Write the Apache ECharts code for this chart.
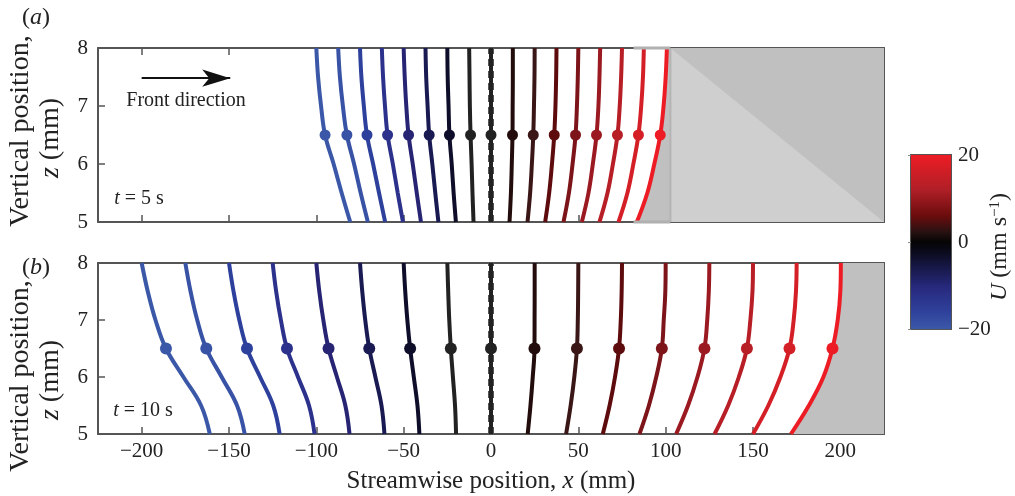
<!DOCTYPE html>
<html lang="en">
<head>
<meta charset="UTF-8">
<title>Front profiles</title>
<script src="https://cdn.jsdelivr.net/npm/echarts@6.0.0/dist/echarts.min.js"></script>
</head>
<body style="margin:0;background:#fff">
<div id="ec" style="width:1015px;height:496px"></div>
<script>
var zLevels = [8, 7.5, 7, 6.5, 6, 5.5, 5]
var dotZ = 6.5
var xTicks = [-200, -150, -100, -50, 0, 50, 100, 150, 200]

// (a) t = 5 s : x position (mm) of each profile at the zLevels above
var linesA = [
    [-100, -99, -97.3, -95, -90.1, -85.5, -80.6],
    [-87.5, -86.5, -84.8, -82.5, -78.4, -74.6, -70.5],
    [-75, -74.2, -72.8, -71, -67.5, -64.1, -60.6],
    [-62.5, -61.8, -60.7, -59.2, -56.2, -53.4, -50.4],
    [-50, -49.4, -48.5, -47.2, -44.8, -42.5, -40.1],
    [-37.5, -37.1, -36.3, -35.4, -33.6, -31.9, -30.1],
    [-25, -24.8, -24.3, -23.8, -22.5, -21.4, -20.1],
    [-12.5, -12.3, -12.1, -11.7, -11.1, -10.6, -10],
    [0, 0, 0, 0, 0, 0, 0],
    [12.5, 12.5, 12.4, 12.3, 11.9, 11.4, 10.6],
    [25, 24.9, 24.6, 24.2, 23.4, 22.4, 20.9],
    [37.5, 37.3, 36.9, 36.2, 34.9, 33.3, 31],
    [50, 49.7, 49.2, 48.4, 46.7, 44.6, 41.5],
    [62.5, 62.1, 61.5, 60.4, 58.3, 55.8, 52],
    [75, 74.5, 73.7, 72.4, 69.8, 66.7, 62.1],
    [87.5, 87, 86, 84.4, 81.5, 78.1, 73],
    [100.7, 100, 98.8, 96.9, 93.5, 89.5, 83.5]
]

// (b) t = 10 s
var linesB = [
    [-200, -196.5, -192.1, -186.1, -176.1, -166, -161],
    [-175, -172, -168.2, -163, -154.2, -145.4, -141],
    [-150, -147.4, -144.1, -139.7, -132.2, -124.7, -121],
    [-125, -123, -120.3, -116.8, -110.5, -104.2, -101],
    [-100, -98.3, -96, -93, -88.2, -83.4, -81],
    [-75, -73.7, -72, -69.7, -66.2, -62.7, -61],
    [-50, -49.1, -47.9, -46.3, -44.2, -42.1, -41],
    [-25, -24.5, -23.9, -23, -21.8, -20.6, -20],
    [0, 0, 0, 0, 0, 0, 0],
    [25, 25, 24.95, 24.9, 23.9, 22.6, 21],
    [50, 49.9, 49.7, 49.2, 47.7, 45.6, 43],
    [75, 74.8, 74.3, 73.3, 71, 67.9, 64],
    [100, 99.8, 98.9, 97.8, 94.6, 90.4, 85],
    [125, 124.7, 123.8, 122.2, 118.2, 112.8, 106],
    [150, 149.7, 148.5, 146.5, 141.9, 135.8, 128],
    [175, 174.6, 173.3, 170.9, 165.7, 158.8, 150],
    [200.3, 200, 198.5, 195.5, 190.3, 182, 171.7]
]

var lineColors = ['#3b58a8', '#3852a5', '#2d409c', '#2c318b', '#272573', '#191a52', '#0e0e2a', '#222222',
    '#222222', '#220c0c', '#3b1616', '#5d0b0c', '#7d1419', '#9b1a21', '#b81e26', '#d41f27', '#ed1c24']

// colour bar
var uRange = [-20, 20]
var uStops = [[0, '#ed1c24'], [0.2, '#b01f27'], [0.35, '#6b0c0d'], [0.44, '#2a1212'], [0.5, '#050505'],
    [0.56, '#0b0b1e'], [0.63, '#151640'], [0.76, '#27297d'], [0.9, '#2f419b'], [1, '#3b58a8']]

// shaded zone in (a)
var shadeEdgeA = 102.7
var boxLeftA = 81.6
var xMin = -225, xMax = 225

var serif = '"Liberation Serif", "Times New Roman", serif'
var axisCol = '#555'
var minus = function (v) { return String(v).replace('-', '\u2212') }

var chart = echarts.init(document.getElementById('ec'))

function xAx(grid, pos, labels, name) {
    return {
        type: 'value', gridIndex: grid, position: pos, min: xMin, max: xMax,
        axisLine: { show: true, onZero: false, lineStyle: { color: axisCol, width: 2 } },
        axisTick: { show: true, inside: true, length: 7, customValues: xTicks, lineStyle: { color: axisCol, width: 1.5 } },
        axisLabel: { show: labels, customValues: xTicks, margin: 7, fontFamily: serif, fontSize: 21, color: '#222', formatter: minus },
        splitLine: { show: false },
        name: name || '', nameLocation: 'middle', nameGap: 35,
        nameTextStyle: { fontFamily: serif, fontSize: 25, color: '#222', rich: { i: { fontFamily: serif, fontSize: 25, fontStyle: 'italic', color: '#222' } } }
    }
}
function yAx(grid, pos, labels) {
    return {
        type: 'value', gridIndex: grid, position: pos, min: 5, max: 8, interval: 1,
        axisLine: { show: true, onZero: false, lineStyle: { color: axisCol, width: 2 } },
        axisTick: { show: true, inside: true, length: 7, lineStyle: { color: axisCol, width: 1.5 } },
        axisLabel: { show: labels, margin: 10, fontFamily: serif, fontSize: 21, color: '#222' },
        splitLine: { show: false }
    }
}

var series = []

function shape(xi, yi, kind, pts, style, z) {
    return {
        type: 'custom', xAxisIndex: xi, yAxisIndex: yi, z: z, silent: true, clip: false,
        data: [[pts[0][0], pts[0][1]]],
        renderItem: function (params, api) {
            return { type: kind, shape: { points: pts.map(function (p) { return api.coord(p) }) }, style: style }
        }
    }
}

function addPanel(lines, xi, yi, dotSize) {
    var front = lines[lines.length - 1]
    var shade = zLevels.map(function (z, i) { return [front[i], z] })
    shade.push([xMax, 5], [xMax, 8])
    series.push(shape(xi, yi, 'polygon', shade, { fill: '#c0c0c0' }, 1))
    // dashed reference at x = 0
    series.push({
        type: 'line', xAxisIndex: xi, yAxisIndex: yi, z: 2, symbol: 'none', silent: true,
        data: [[0, 5], [0, 8]],
        lineStyle: { color: '#555', width: 6, type: [7, 5] }
    })
    lines.forEach(function (l, k) {
        series.push({
            type: 'line', xAxisIndex: xi, yAxisIndex: yi, z: 3, symbol: 'none', smooth: 0.4, silent: true,
            data: zLevels.map(function (z, i) { return [l[i], z] }),
            lineStyle: { color: lineColors[k], width: 4 }
        })
    })
    series.push({
        type: 'scatter', xAxisIndex: xi, yAxisIndex: yi, z: 4, symbolSize: dotSize, silent: true,
        data: lines.map(function (l, k) {
            return { value: [l[zLevels.indexOf(dotZ)], dotZ], itemStyle: { color: lineColors[k], opacity: 1 } }
        })
    })
}

// panel (a) shading extras: lighter triangle, edge and box rims
series.push(shape(0, 0, 'polygon', [[shadeEdgeA, 8], [xMax, 5], [shadeEdgeA, 5]], { fill: '#cfcfcf' }, 1.5))
addPanel(linesA, 0, 0, 11)
series.push(shape(0, 0, 'polyline', [[shadeEdgeA, 8], [shadeEdgeA, 5]], { fill: null, stroke: '#b4b4b4', lineWidth: 2 }, 1.6))
series.push(shape(0, 0, 'polyline', [[boxLeftA, 8], [shadeEdgeA, 8]], { fill: null, stroke: '#b0b0b0', lineWidth: 3 }, 10))
series.push(shape(0, 0, 'polyline', [[boxLeftA, 5], [shadeEdgeA, 5]], { fill: null, stroke: '#b0b0b0', lineWidth: 3 }, 10))
addPanel(linesB, 2, 2, 12)

// arrow "Front direction"
series.push({
    type: 'line', xAxisIndex: 0, yAxisIndex: 0, data: [], silent: true,
    markLine: {
        silent: true, symbol: ['none', 'arrow'], symbolSize: [13, 28], animation: false,
        lineStyle: { color: '#111', width: 2, type: 'solid' }, label: { show: false },
        data: [[{ coord: [-200, 7.48] }, { coord: [-149.3, 7.48] }]]
    }
})

// colour bar
series.push({
    type: 'custom', xAxisIndex: 4, yAxisIndex: 4, silent: true, data: [[0, 0]],
    renderItem: function (params, api) {
        var p0 = api.coord([0, uRange[1]]), p1 = api.coord([1, uRange[0]])
        return {
            type: 'rect', shape: { x: p0[0], y: p0[1], width: p1[0] - p0[0], height: p1[1] - p0[1] },
            style: { fill: new echarts.graphic.LinearGradient(0, 0, 0, 1, uStops.map(function (s) { return { offset: s[0], color: s[1] } })) }
        }
    }
})

function txt(x, y, text, size, rot) {
    return {
        type: 'text', x: x, y: y, rotation: rot || 0, silent: true,
        style: {
            text: text, fontFamily: serif, fontSize: size, fill: '#222',
            textAlign: 'center', textVerticalAlign: 'middle', align: 'center', verticalAlign: 'middle',
            rich: {
                i: { fontFamily: serif, fontSize: size, fontStyle: 'italic', fill: '#222' },
                sup: { fontFamily: serif, fontSize: Math.round(size * 0.62), fill: '#222', verticalAlign: 'top', padding: [0, 0, 10, 0] }
            }
        }
    }
}

var graphics = [
    txt(36, 18, '({i|a})', 24),
    txt(36, 268, '({i|b})', 24),
    txt(21, 131, 'Vertical position,', 28, Math.PI / 2),
    txt(51, 138, '{i|z} (mm)', 28, Math.PI / 2),
    txt(21, 376, 'Vertical position,', 28, Math.PI / 2),
    txt(51, 380, '{i|z} (mm)', 28, Math.PI / 2),
    txt(186, 101, 'Front direction', 20),
    txt(139, 199, '{i|t} = 5 s', 20),
    txt(143, 411, '{i|t} = 10 s', 20),
    txt(1000, 247, '{i|U} (mm s{sup|\u22121})', 24, Math.PI / 2)
]

var option = {
    animation: false,
    backgroundColor: '#fff',
    grid: [
        { left: 98, top: 48, width: 786, height: 174 },
        { left: 98, top: 263, width: 786, height: 171 },
        { left: 911, top: 155, width: 40, height: 174, show: true, borderColor: axisCol, borderWidth: 2 }
    ],
    xAxis: [
        xAx(0, 'bottom', false), xAx(0, 'top', false),
        xAx(1, 'bottom', true, 'Streamwise position, {i|x} (mm)'), xAx(1, 'top', false),
        { type: 'value', gridIndex: 2, min: 0, max: 1, show: false }
    ],
    yAxis: [
        yAx(0, 'left', true), yAx(0, 'right', false),
        yAx(1, 'left', true), yAx(1, 'right', false),
        {
            type: 'value', gridIndex: 2, position: 'right', min: uRange[0], max: uRange[1], interval: 20,
            axisLine: { show: false },
            axisTick: { show: true, inside: true, length: 3, lineStyle: { color: '#888' } },
            axisLabel: { margin: 7, fontFamily: serif, fontSize: 21, color: '#222', formatter: minus },
            splitLine: { show: false }
        }
    ],
    graphic: graphics,
    series: series
}
chart.setOption(option)
</script>
</body>
</html>
